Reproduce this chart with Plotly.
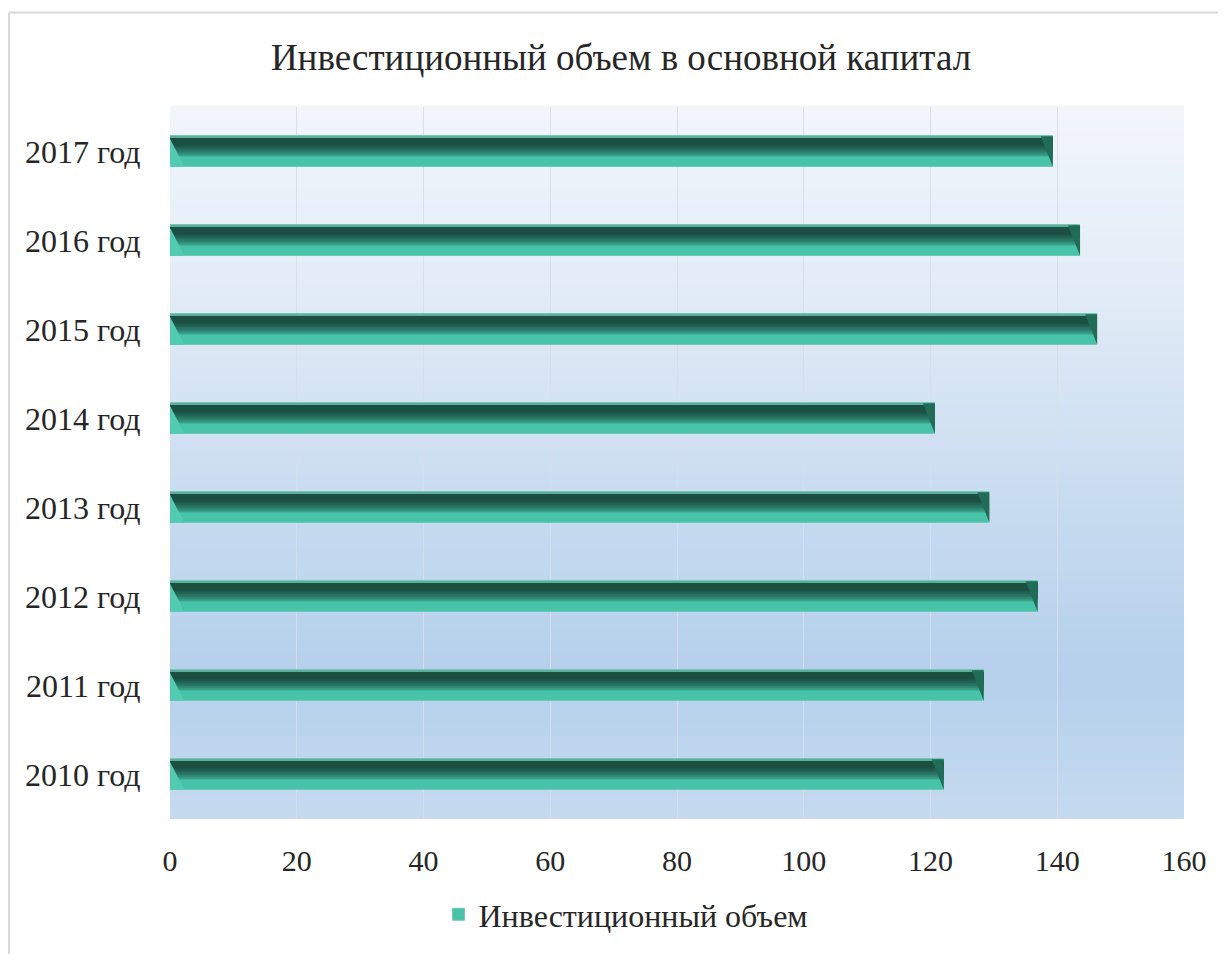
import plotly.graph_objects as go

# ---- data ----
categories = ["2010 год", "2011 год", "2012 год", "2013 год",
              "2014 год", "2015 год", "2016 год", "2017 год"]
values = [122.1, 128.4, 136.9, 129.3, 120.7, 146.3, 143.6, 139.3]
series_name = "Инвестиционный объем"
title_text = "Инвестиционный объем в основной капитал"
x_ticks = [0, 20, 40, 60, 80, 100, 120, 140, 160]

FONT = "Liberation Serif, Times New Roman, serif"
OFF = 8  # page body margin
W, H = 1226 - OFF, 954 - OFF
ML, MR, MT, MB = 170 - OFF, 42, 107 - OFF, 131
pw, ph = W - ML - MR, H - MT - MB


def lerp(c1, c2, t):
    a = [int(c1[i:i + 2], 16) for i in (1, 3, 5)]
    b = [int(c2[i:i + 2], 16) for i in (1, 3, 5)]
    return "#%02x%02x%02x" % tuple(round(a[k] + (b[k] - a[k]) * t) for k in range(3))


fig = go.Figure()

half = 0.172
bar_w = 2 * half
# base bar (light teal), with legend entry
fig.add_trace(go.Bar(
    y=categories, x=values, orientation="h", name=series_name,
    width=bar_w, offset=-half,
    marker=dict(color="#47c3a8", line=dict(color="#72c8b4", width=1)),
    showlegend=True, hoverinfo="x+y",
))
# stacked overlay bands anchored at top -> vertical gradient (dark at top)
nb = 18
f_hi, f_lo = 0.68, 0.30
c_light, c_dark = "#40b69c", "#1b4f42"
for i in range(nb):
    t = i / (nb - 1)
    f = f_hi + (f_lo - f_hi) * t
    col = lerp(c_light, c_dark, t ** 0.7)
    w = bar_w * f
    fig.add_trace(go.Bar(
        y=categories, x=values, orientation="h", width=w, offset=half - w,
        marker=dict(color=col, line=dict(width=0)),
        showlegend=False, hoverinfo="skip",
    ))
# thin light top edge
fig.add_trace(go.Bar(
    y=categories, x=values, orientation="h", width=0.012, offset=half - 0.012,
    marker=dict(color="#5fae9c", line=dict(width=0)),
    showlegend=False, hoverinfo="skip",
))

# bevel triangles computed from the values
shapes = []
d = 1.9
for i, v in enumerate(values):
    top, bot = i + half, i - half
    shapes.append(dict(type="path", xref="x", yref="y",
                       path=f"M {v - d} {top} L {v} {top} L {v} {bot} Z",
                       fillcolor="#206c57", line=dict(width=0), layer="above"))
    shapes.append(dict(type="path", xref="x", yref="y",
                       path=f"M 0 {top - 0.03} L {d * 1.2} {bot} L 0 {bot} Z",
                       fillcolor="#52cbb1", line=dict(width=0), layer="above"))

# plot-area gradient background
stops = [(0.0, "#c6daef"), (0.2, "#b5d0ec"), (0.45, "#c9dcf0"),
         (0.75, "#e3ecf7"), (1.0, "#f2f6fb")]
n = 60
for k in range(n):
    y0, y1 = k / n, (k + 1) / n
    ym = (y0 + y1) / 2
    for j in range(len(stops) - 1):
        if stops[j][0] <= ym <= stops[j + 1][0]:
            t = (ym - stops[j][0]) / (stops[j + 1][0] - stops[j][0])
            col = lerp(stops[j][1], stops[j + 1][1], t)
            break
    shapes.append(dict(type="rect", xref="x domain", yref="y domain",
                       x0=0, x1=1, y0=y0, y1=y1 + 0.002, fillcolor=col,
                       line=dict(width=0), layer="below"))

# outer chart border (left and top edges visible)
bx = (9 - 170) / pw
by = (823 - 12) / ph
shapes.append(dict(type="line", xref="paper", yref="paper", x0=bx, x1=bx,
                   y0=-1, y1=by, line=dict(color="#d9d9d9", width=2)))
shapes.append(dict(type="line", xref="paper", yref="paper", x0=bx, x1=2,
                   y0=by, y1=by, line=dict(color="#d9d9d9", width=2)))

fig.update_layout(
    width=W, height=H,
    margin=dict(l=ML, r=MR, t=MT, b=MB, pad=0),
    paper_bgcolor="white", plot_bgcolor="rgba(0,0,0,0)",
    barmode="overlay", bargap=0,
    font=dict(family=FONT, color="#262626"),
    title=dict(text=title_text, font=dict(family=FONT, size=37, color="#262626"),
               x=(621 - OFF) / W, xanchor="center", y=1 - (57 - OFF) / H,
               yanchor="middle", xref="container", yref="container"),
    xaxis=dict(range=[0, 160], tickvals=x_ticks, showgrid=True,
               gridcolor="rgba(215,222,232,0.9)", gridwidth=1,
               zeroline=False, showline=False,
               ticks="outside", ticklen=15, tickcolor="rgba(0,0,0,0)",
               tickfont=dict(family=FONT, size=30, color="#262626"),
               fixedrange=True),
    yaxis=dict(type="category", categoryorder="array", categoryarray=categories,
               range=[-0.5, len(categories) - 0.5], showgrid=False,
               zeroline=False, showline=False,
               ticks="outside", ticklen=22, tickcolor="rgba(0,0,0,0)",
               tickfont=dict(family=FONT, size=32, color="#262626"),
               fixedrange=True),
    legend=dict(orientation="h", x=(626 - 170) / pw, xanchor="center",
                y=(823 - 919) / ph, yanchor="middle",
                font=dict(family=FONT, size=32, color="#262626"),
                bgcolor="rgba(0,0,0,0)", itemwidth=30),
    shapes=shapes,
    showlegend=True,
)

fig.write_html("out.html")
